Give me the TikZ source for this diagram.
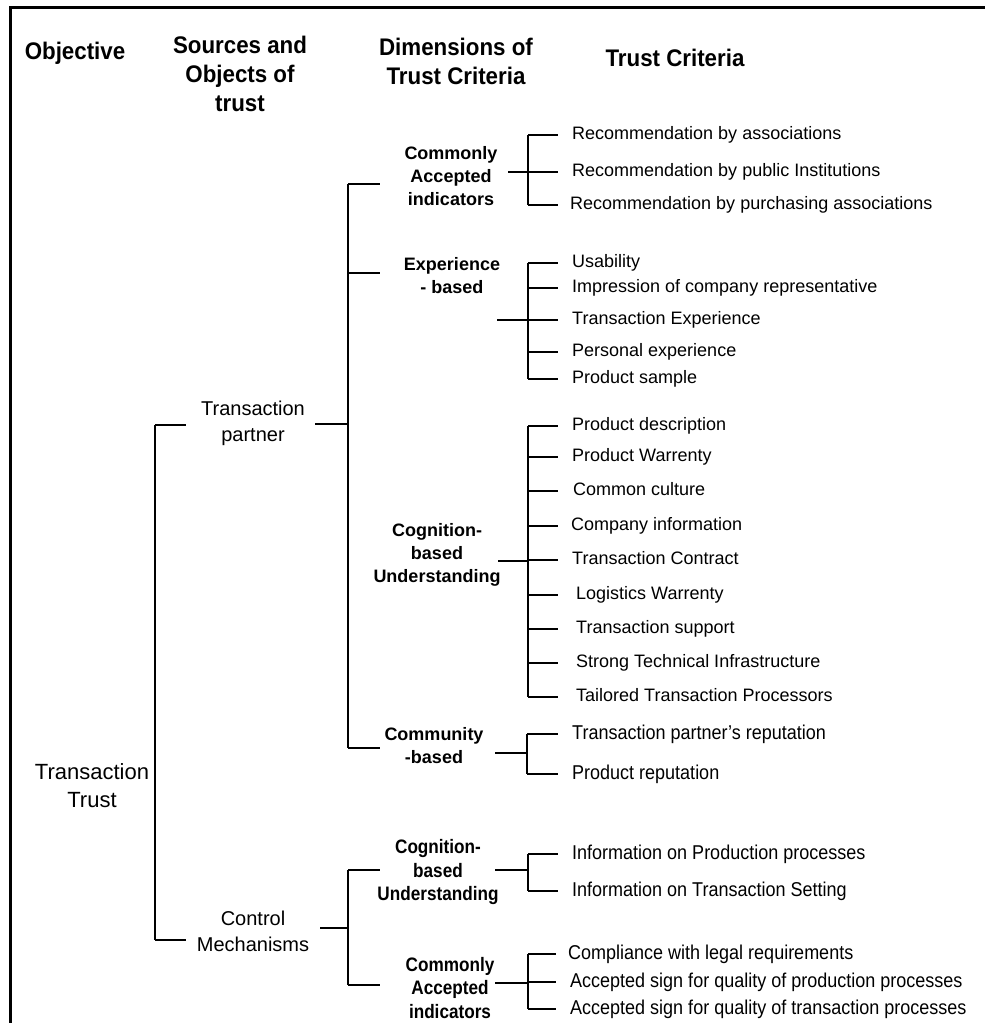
\documentclass[tikz,border=0pt]{standalone}
\usepackage{fontspec}
\setmainfont{Liberation Sans}
\newfontfamily\headfont[FakeStretch=0.93]{Liberation Sans}
\newfontfamily\dimcfont[FakeStretch=0.88]{Liberation Sans}
\newfontfamily\condfont[FakeStretch=0.9]{Liberation Sans}
\begin{document}
\begin{tikzpicture}[x=1pt,y=-1pt,
  conn/.style={line width=2.3pt},
  frame/.style={line width=3pt},
  head/.style={font=\headfont\bfseries\fontsize{24}{29}\selectfont, align=center, inner sep=0},
  rootlbl/.style={font=\fontsize{22}{28}\selectfont, align=center, inner sep=0},
  srclbl/.style={font=\fontsize{20}{26}\selectfont, align=center, inner sep=0},
  dimlbl/.style={font=\bfseries\fontsize{18}{23}\selectfont, align=center, inner sep=0},
  dimlblc/.style={font=\dimcfont\bfseries\fontsize{19.5}{23.5}\selectfont, align=center, inner sep=0},
  item/.style={font=\fontsize{18}{22}\selectfont, anchor=west, inner sep=0, text height=13pt, text depth=4pt},
  itemc/.style={font=\condfont\fontsize{20}{24}\selectfont, anchor=west, inner sep=0, text height=14pt, text depth=4pt}
]
\useasboundingbox (0,0) rectangle (985,1023);

% frame (open to the right and bottom)
\draw[frame] (990,7) -- (10,7) -- (10,1030);

% column headings
\node[head] (hobj)  at (75,53)  {Objective};
\node[head] (hsrc)  at (240,74) {Sources and\\Objects of\\trust};
\node[head] (hdim)  at (456,61) {Dimensions of\\Trust Criteria};
\node[head] (hcrit) at (675,58) {Trust Criteria};

% objective and sources
\node[rootlbl] (root) at (92,786) {Transaction\\Trust};
\node[srclbl] (tp) at (253,423) {Transaction\\partner};
\node[srclbl] (cm) at (253,931) {Control\\Mechanisms};

% root bracket
\coordinate (rs1) at (155,425);
\coordinate (rs2) at (155,940);
\draw[conn] (rs1) -- (rs2);
\draw[conn] (rs1) -- ++(31,0);
\draw[conn] (rs2) -- ++(31,0);

% transaction partner bracket
\coordinate (ts1) at (348,184);
\coordinate (ts0) at (348,424);
\coordinate (tsE) at (348,273);
\coordinate (ts2) at (348,748);
\draw[conn] (ts1) -- (ts2);
\draw[conn] (ts0) -- ++(-33,0);
\draw[conn] (ts1) -- ++(32,0);
\draw[conn] (tsE) -- ++(32,0);
\draw[conn] (ts2) -- ++(32,0);

% control mechanisms bracket
\coordinate (cs1) at (348,870);
\coordinate (cs0) at (348,928);
\coordinate (cs2) at (348,985);
\draw[conn] (cs1) -- (cs2);
\draw[conn] (cs0) -- ++(-28,0);
\draw[conn] (cs1) -- ++(32,0);
\draw[conn] (cs2) -- ++(32,0);

% dimensions
\node[dimlbl] (ca1) at (451,176) {Commonly\\Accepted\\indicators};
\node[dimlbl] (exp) at (452,276) {Experience\\- based};
\node[dimlbl] (cg1) at (437,555) {Cognition-\\based\\Understanding};
\node[dimlbl] (cmb) at (434,746) {Community\\-based};
\node[dimlblc] (cg2) at (438,872) {Cognition-\\based\\Understanding};
\node[dimlblc] (ca2) at (450,988) {Commonly\\Accepted\\indicators};

% criteria: commonly accepted indicators
\node[item] (a1) at (572,135) {Recommendation by associations};
\node[item] (a2) at (572,172) {Recommendation by public Institutions};
\node[item] (a3) at (570,205) {Recommendation by purchasing associations};
\coordinate (g1) at (528,172);
\draw[conn] (g1) -- ++(-20,0);
\draw[conn] (a1 -| g1) -- (a3 -| g1);
\foreach \n in {a1,a2,a3} \draw[conn] (\n -| g1) -- ++(30,0);

% criteria: experience based
\node[item] (b1) at (572,263) {Usability};
\node[item] (b2) at (572,288) {Impression of company representative};
\node[item] (b3) at (572,320) {Transaction Experience};
\node[item] (b4) at (572,352) {Personal experience};
\node[item] (b5) at (572,379) {Product sample};
\coordinate (g2) at (528,320);
\draw[conn] (g2) -- ++(-31,0);
\draw[conn] (b1 -| g2) -- (b5 -| g2);
\foreach \n in {b1,b2,b3,b4,b5} \draw[conn] (\n -| g2) -- ++(30,0);

% criteria: cognition based understanding
\node[item] (c1) at (572,426) {Product description};
\node[item] (c2) at (572,457) {Product Warrenty};
\node[item] (c3) at (573,491) {Common culture};
\node[item] (c4) at (571,526) {Company information};
\node[item] (c5) at (572,560) {Transaction Contract};
\node[item] (c6) at (576,595) {Logistics Warrenty};
\node[item] (c7) at (576,629) {Transaction support};
\node[item] (c8) at (576,663) {Strong Technical Infrastructure};
\node[item] (c9) at (576,697) {Tailored Transaction Processors};
\coordinate (g3) at (528,561);
\draw[conn] (g3) -- ++(-30,0);
\draw[conn] (c1 -| g3) -- (c9 -| g3);
\foreach \n in {c1,c2,c3,c4,c5,c6,c7,c8,c9} \draw[conn] (\n -| g3) -- ++(30,0);

% criteria: community based
\node[itemc] (d1) at (572,734) {Transaction partner’s reputation};
\node[itemc] (d2) at (572,774) {Product reputation};
\coordinate (g4) at (527,753);
\draw[conn] (g4) -- ++(-32,0);
\draw[conn] (d1 -| g4) -- (d2 -| g4);
\foreach \n in {d1,d2} \draw[conn] (\n -| g4) -- ++(31,0);

% criteria: control mechanisms, cognition based
\node[itemc] (e1) at (572,854) {Information on Production processes};
\node[itemc] (e2) at (572,891) {Information on Transaction Setting};
\coordinate (g5) at (528,870);
\draw[conn] (g5) -- ++(-33,0);
\draw[conn] (e1 -| g5) -- (e2 -| g5);
\foreach \n in {e1,e2} \draw[conn] (\n -| g5) -- ++(30,0);

% criteria: control mechanisms, commonly accepted
\node[itemc] (f1) at (568,954) {Compliance with legal requirements};
\node[itemc] (f2) at (570,982) {Accepted sign for quality of production processes};
\node[itemc] (f3) at (570,1009) {Accepted sign for quality of transaction processes};
\coordinate (g6) at (528,983);
\draw[conn] (g6) -- ++(-33,0);
\draw[conn] (f1 -| g6) -- (f3 -| g6);
\foreach \n in {f1,f2,f3} \draw[conn] (\n -| g6) -- ++(28,0);
\end{tikzpicture}
\end{document}
